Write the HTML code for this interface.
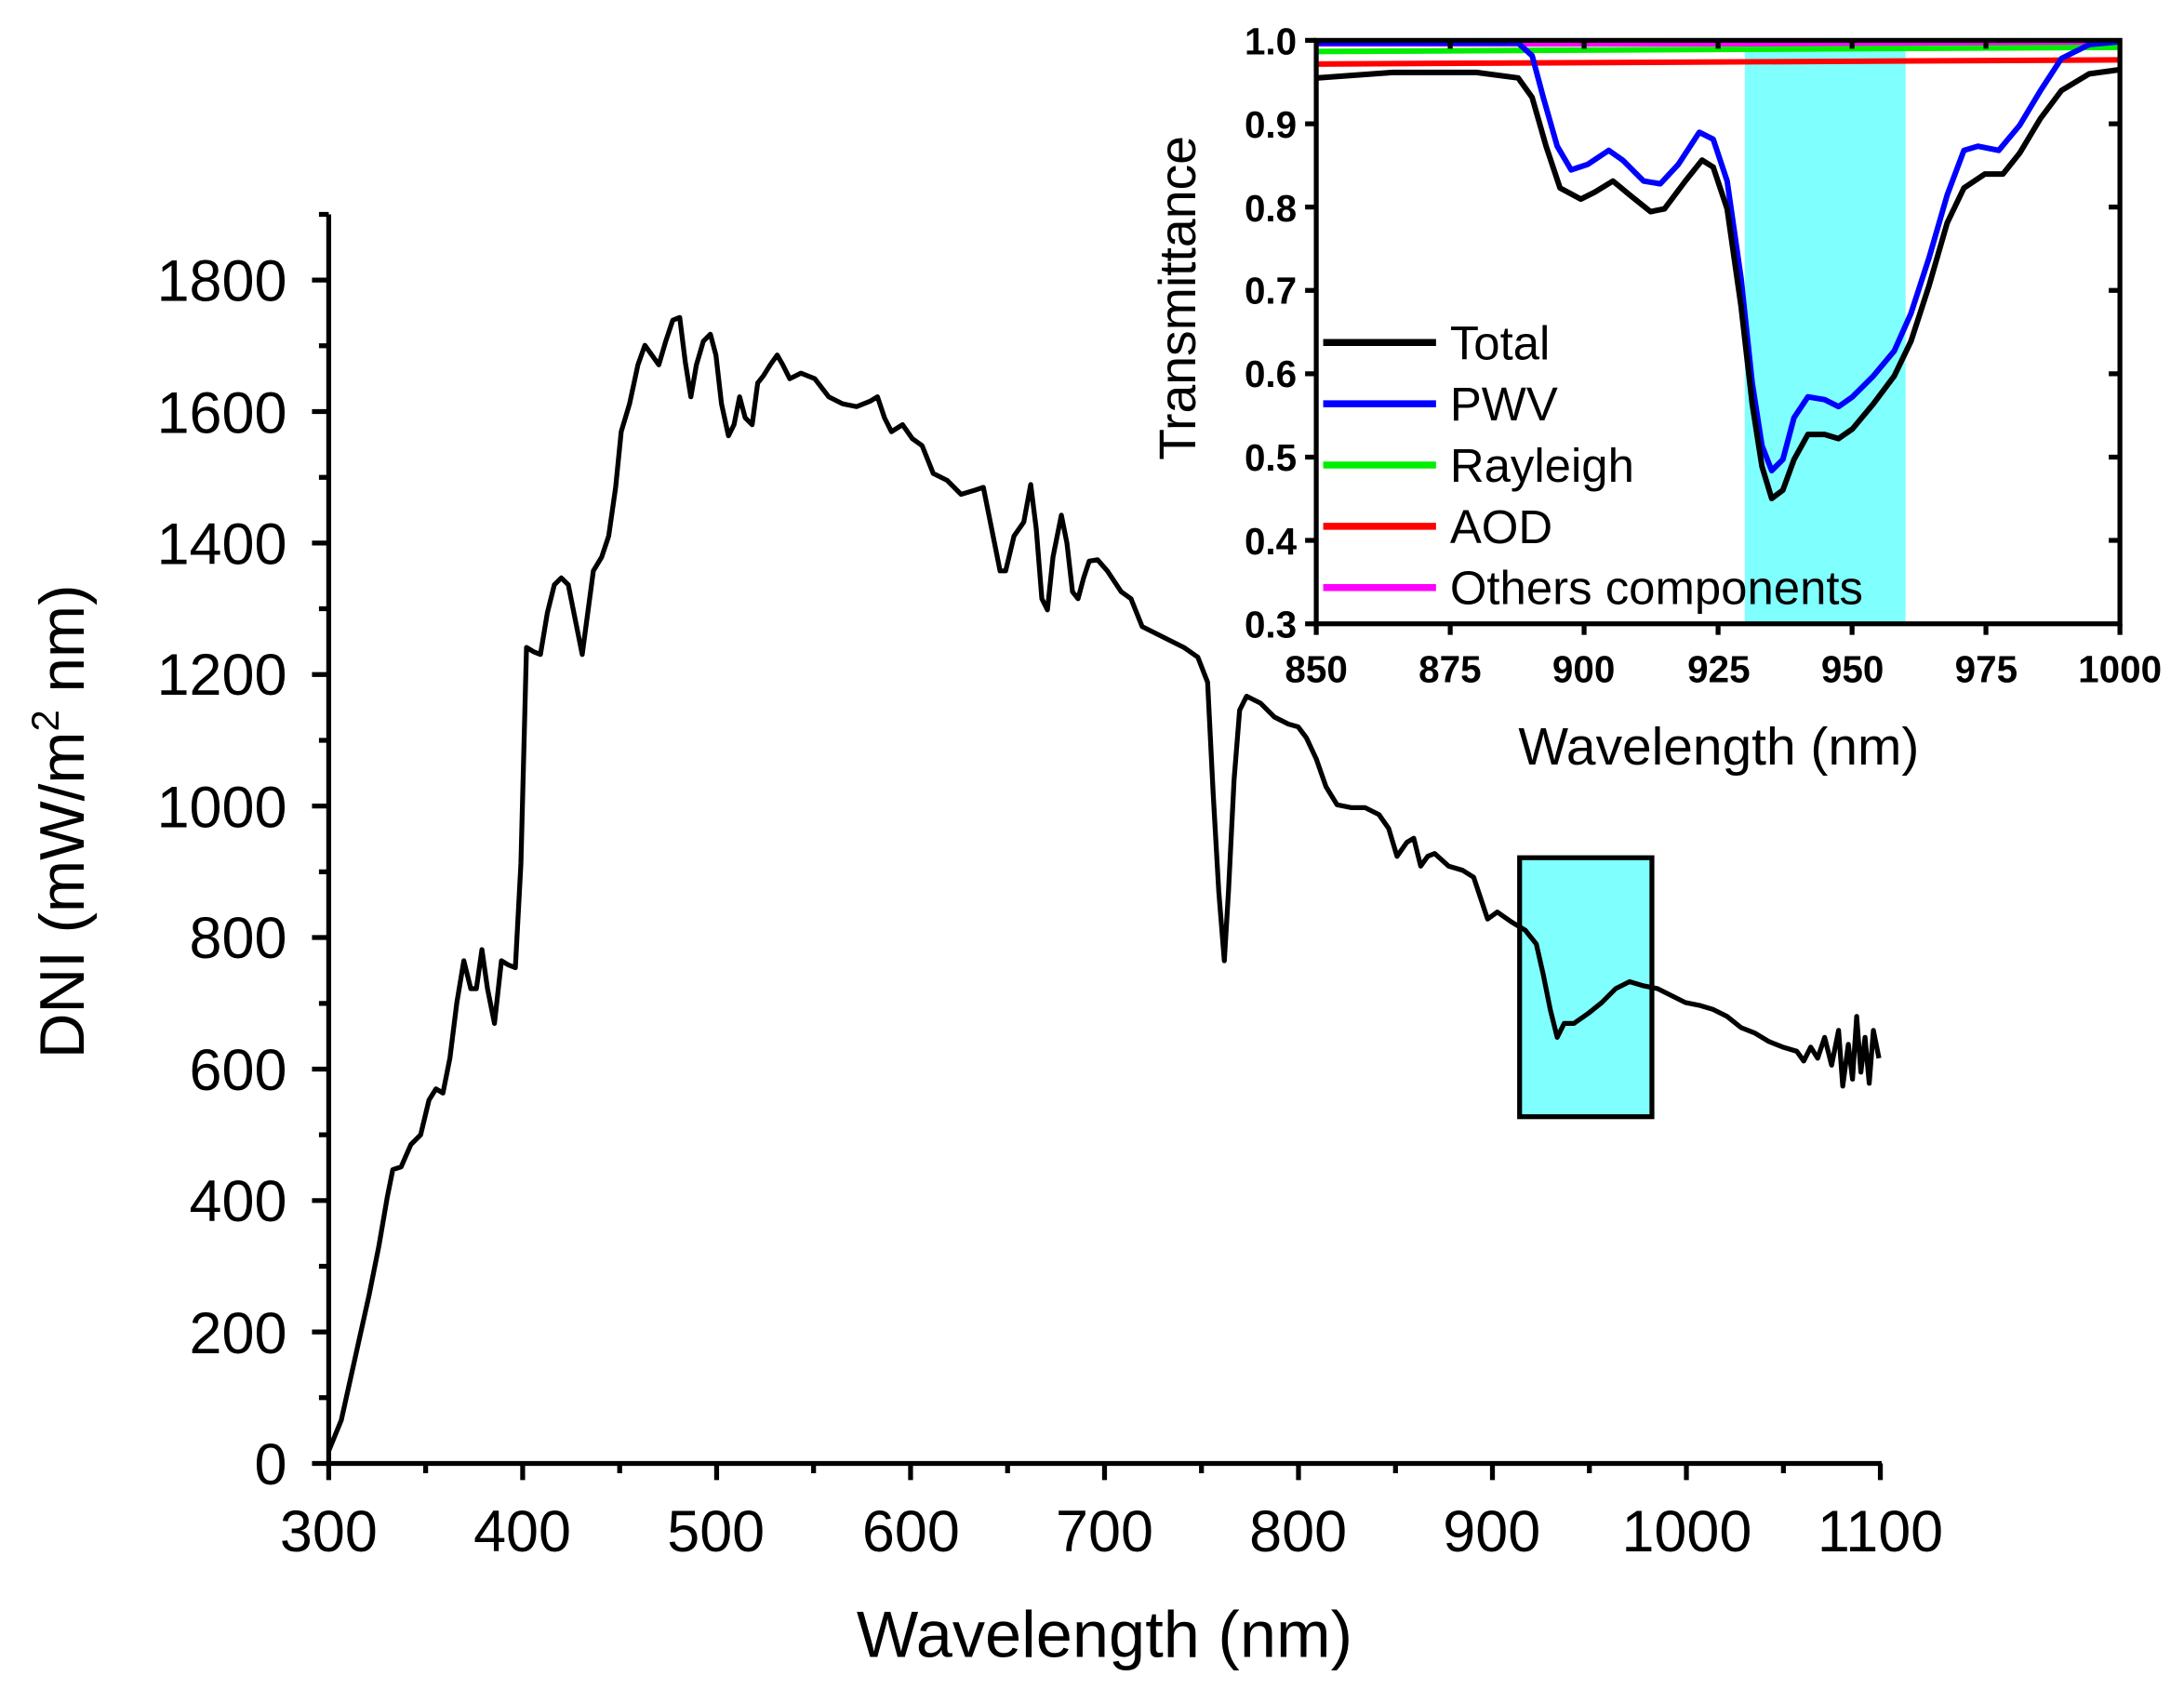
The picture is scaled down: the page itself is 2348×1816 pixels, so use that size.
<!DOCTYPE html>
<html><head><meta charset="utf-8"><style>
html,body{margin:0;padding:0;background:#fff;}
svg{display:block;}
text{font-family:"Liberation Sans",Arial,sans-serif;fill:#000;}
</style></head><body>
<svg width="2348" height="1816" viewBox="0 0 1568 1213" preserveAspectRatio="none" xmlns="http://www.w3.org/2000/svg">
<rect x="1091" y="616" width="95" height="186" fill="#80ffff" stroke="#000" stroke-width="3.5"/>
<g stroke="#000" stroke-width="3.5" fill="none">
<line x1="236" y1="154" x2="236" y2="1052"/>
<line x1="234.5" y1="1051" x2="1351" y2="1051"/>
<path d="M236 1051h-12M236 956.6h-12M236 862.2h-12M236 767.8h-12M236 673.3h-12M236 578.9h-12M236 484.4h-12M236 390h-12M236 295.6h-12M236 201.1h-12
M236 1003.8h-7M236 909.4h-7M236 815h-7M236 720.6h-7M236 626.1h-7M236 531.7h-7M236 437.2h-7M236 342.8h-7M236 248.3h-7M236 154h-7" />
<path d="M236 1051v12M375.25 1051v12M514.5 1051v12M653.75 1051v12M793 1051v12M932.25 1051v12M1071.5 1051v12M1210.75 1051v12M1350 1051v12
M305.6 1051v7M444.9 1051v7M584.1 1051v7M723.4 1051v7M862.6 1051v7M1001.9 1051v7M1141.1 1051v7M1280.4 1051v7"/>
</g>
<g font-size="42" text-anchor="end">
<text x="206" y="1066">0</text><text x="206" y="972">200</text><text x="206" y="877">400</text><text x="206" y="783">600</text><text x="206" y="688">800</text><text x="206" y="594">1000</text><text x="206" y="499">1200</text><text x="206" y="405">1400</text><text x="206" y="311">1600</text><text x="206" y="216">1800</text>
</g>
<g font-size="42" text-anchor="middle">
<text x="236" y="1114">300</text><text x="375" y="1114">400</text><text x="514" y="1114">500</text><text x="654" y="1114">600</text><text x="793" y="1114">700</text><text x="932" y="1114">800</text><text x="1071" y="1114">900</text><text x="1211" y="1114">1000</text><text x="1350" y="1114">1100</text>
</g>
<text x="793" y="1190" font-size="47" text-anchor="middle">Wavelength (nm)</text>
<text transform="translate(60,590) rotate(-90)" font-size="45" text-anchor="middle">DNI (mW/m<tspan font-size="28" dy="-18">2</tspan><tspan dy="18"> nm)</tspan></text>
<polyline fill="none" stroke="#000" stroke-width="3.5" stroke-linejoin="round" points="236,1042 245,1020 255,975 265,930 272,895 278,860 282,840 288,838 295,822 302,815 308,790 313,782 318,785 323,760 328,720 333,690 338,710 342,710 346,682 350,710 355,735 360,690 365,693 370,695 374,620 378,465 383,468 388,470 393,440 398,420 403,415 408,420 413,445 418,470 422,440 426,410 432,400 437,385 442,350 446,310 452,290 458,262 463,248 468,255 473,262 478,245 483,230 488,228 492,260 496,285 500,262 505,245 510,240 514,255 518,290 523,313 527,305 531,285 535,300 540,305 544,275 548,270 553,262 558,255 562,262 567,272 575,268 585,272 595,285 605,290 615,292 625,288 630,285 635,300 640,310 648,305 655,315 662,320 670,340 680,345 690,355 700,352 706,350 712,380 718,410 722,410 728,385 735,375 740,348 744,380 748,430 752,438 756,400 762,370 766,390 770,425 774,430 778,415 782,403 788,402 795,410 805,425 812,430 820,450 830,455 840,460 850,465 860,472 867,490 871,570 875,640 879,690 882,640 886,560 890,510 895,500 905,505 915,515 925,520 932,522 938,530 945,545 952,565 960,578 970,580 980,580 990,585 997,595 1003,615 1010,605 1015,602 1020,622 1025,615 1030,613 1040,622 1050,625 1058,630 1063,645 1068,660 1075,655 1085,662 1095,668 1103,678 1108,700 1113,725 1118,745 1123,735 1130,735 1140,728 1150,720 1160,710 1170,705 1180,708 1190,710 1200,715 1210,720 1220,722 1230,725 1240,730 1250,738 1260,742 1270,748 1280,752 1290,755 1295,762 1300,752 1305,760 1310,745 1315,765 1320,740 1323,780 1327,750 1330,775 1333,730 1336,770 1339,745 1342,778 1345,740 1349,760"/>
<!-- inset -->
<rect x="1252.7" y="29" width="115.4" height="419" fill="#80ffff"/>
<g fill="none" stroke-width="4">
<line x1="945" y1="31" x2="1522" y2="31" stroke="#ff00ff" stroke-width="5"/>
<line x1="945" y1="37" x2="1522" y2="34" stroke="#00ee00"/>
<line x1="945" y1="46" x2="1522" y2="43" stroke="#ff0000"/>
<polyline stroke="#0000ff" stroke-linejoin="round" points="945,31 1090,31 1100,40 1108,70 1118,105 1128,122 1140,118 1155,108 1165,115 1180,130 1192,132 1205,118 1220,95 1230,100 1240,130 1250,200 1258,275 1265,320 1272,338 1280,330 1288,300 1298,285 1310,287 1320,292 1330,285 1345,270 1360,252 1372,225 1385,185 1398,140 1410,108 1420,105 1435,108 1450,90 1465,65 1480,42 1500,32 1522,30"/>
<polyline stroke="#000" stroke-linejoin="round" points="945,56 1000,52 1060,52 1090,56 1100,70 1110,105 1120,135 1135,143 1145,138 1158,130 1170,140 1185,152 1195,150 1210,130 1222,115 1230,120 1240,150 1250,220 1258,290 1265,335 1272,358 1280,352 1288,330 1298,312 1310,312 1320,315 1330,308 1345,290 1360,270 1372,245 1385,205 1398,160 1410,135 1425,125 1438,125 1450,110 1465,85 1480,65 1500,53 1522,50"/>
</g>
<g stroke="#000" stroke-width="3.5" fill="none">
<rect x="945" y="29" width="577" height="419"/>
<path d="M945 29h-8M945 88.9h-8M945 148.7h-8M945 208.6h-8M945 268.4h-8M945 328.3h-8M945 388.1h-8M945 448h-8
M1522 88.9h-8M1522 148.7h-8M1522 208.6h-8M1522 268.4h-8M1522 328.3h-8M1522 388.1h-8
M945 448v8M1041.2 448v8M1137.3 448v8M1233.5 448v8M1329.7 448v8M1425.8 448v8M1522 448v8
M1041.2 29v6M1137.3 29v6M1233.5 29v6M1329.7 29v6M1425.8 29v6"/>
</g>
<g font-size="27" font-weight="bold" text-anchor="end">
<text x="931" y="39">1.0</text><text x="931" y="99">0.9</text><text x="931" y="159">0.8</text><text x="931" y="218">0.7</text><text x="931" y="278">0.6</text><text x="931" y="338">0.5</text><text x="931" y="398">0.4</text><text x="931" y="458">0.3</text>
</g>
<g font-size="27" font-weight="bold" text-anchor="middle">
<text x="945" y="490">850</text><text x="1041" y="490">875</text><text x="1137" y="490">900</text><text x="1234" y="490">925</text><text x="1330" y="490">950</text><text x="1426" y="490">975</text><text x="1522" y="490">1000</text>
</g>
<text x="1234" y="549" font-size="38" text-anchor="middle">Wavelength (nm)</text>
<text transform="translate(858,214) rotate(-90)" font-size="37" text-anchor="middle">Transmittance</text>
<g stroke-width="5">
<line x1="950" y1="246" x2="1031" y2="246" stroke="#000"/>
<line x1="950" y1="290" x2="1031" y2="290" stroke="#0000ff"/>
<line x1="950" y1="334" x2="1031" y2="334" stroke="#00ee00"/>
<line x1="950" y1="378" x2="1031" y2="378" stroke="#ff0000"/>
<line x1="950" y1="422" x2="1031" y2="422" stroke="#ff00ff"/>
</g>
<g font-size="34">
<text x="1041" y="258">Total</text><text x="1041" y="302">PWV</text><text x="1041" y="346">Rayleigh</text><text x="1041" y="390">AOD</text><text x="1041" y="434">Others components</text>
</g>
</svg>
</body></html>
